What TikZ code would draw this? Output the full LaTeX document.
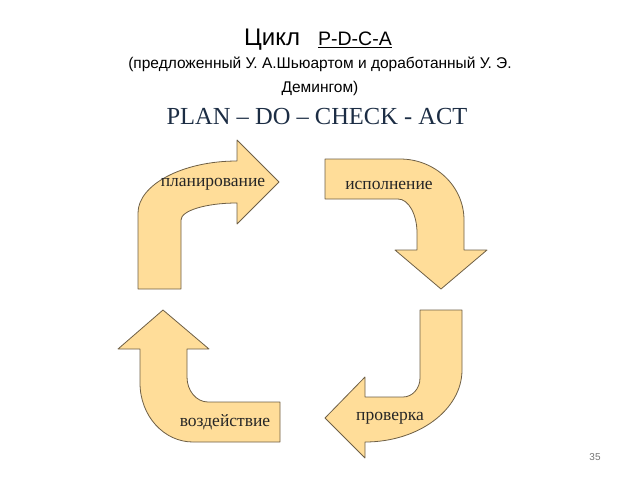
\documentclass[tikz,border=0pt]{standalone}
\usepackage{fontspec}
\setmainfont{Liberation Serif}
\setsansfont{Liberation Sans}
\usepackage{tikz}
\usetikzlibrary{positioning}

\definecolor{arrfill}{RGB}{255,221,153}
\definecolor{arrline}{RGB}{110,95,70}
\definecolor{pdcatext}{RGB}{28,45,68}

\begin{document}
\begin{tikzpicture}[x=1pt, y=-1pt,
  bentarr/.style={fill=arrfill, draw=arrline, line width=0.8pt, line join=round},
  lbl/.style={font=\fontsize{17.5}{20}\selectfont, text=black!85, inner sep=1pt},
  head/.style={font=\sffamily\fontsize{15.5}{24}\selectfont, align=center}
]
  \useasboundingbox (0,0) rectangle (640,480);

  \node[font=\sffamily\fontsize{24}{26}\selectfont] (title) at (318,40)
    {Цикл\hspace{18pt}\underline{\fontsize{19.5}{22}\selectfont P-D-C-A}};
  \node[head] (sub) at (320,76)
    {(предложенный У. А.Шьюартом и доработанный У. Э.\\Демингом)};
  \node[font=\fontsize{24.5}{28}\selectfont, text=pdcatext] (pdca) at (317,117)
    {PLAN -- DO -- CHECK - ACT};

  \draw[bentarr] (138,289) -- (181,289) -- (181,220)
    .. controls (181,210.6) and (206.1,203) .. (237,203)
    -- (237,224) -- (279,182) -- (237,140) -- (237,161)
    .. controls (182.4,161) and (138,184.8) .. (138,213) -- cycle;
  \draw[bentarr] (325,159) -- (400,159)
    .. controls (435.3,159) and (464,186.3) .. (464,220)
    -- (464,250) -- (487,250) -- (441,289) -- (395,250) -- (417,250) -- (417,233)
    .. controls (417,214.2) and (408.5,199) .. (398,199) -- (325,199) -- cycle;
  \draw[bentarr] (420,310) -- (462,310) -- (462,370)
    .. controls (462,409.7) and (418.5,442) .. (365,442)
    -- (365,458) -- (325,418) -- (365,377) -- (365,397) -- (403,397)
    .. controls (412.4,397) and (420,388.5) .. (420,378) -- cycle;
  \draw[bentarr] (163,310) -- (209,349) -- (187,349) -- (187,377)
    .. controls (187,390.8) and (196.4,402) .. (208,402)
    -- (280,402) -- (280,442) -- (193,442)
    .. controls (163.7,442) and (140,415.6) .. (140,383)
    -- (140,349) -- (118,349) -- cycle;

  \node[lbl] (plan) at (213,184) {планирование};
  \node[lbl] (do) at (389,185) {исполнение};
  \node[lbl] (check) at (390,418) {проверка};
  \node[lbl] (act) at (225,422) {воздействие};

  \node[font=\sffamily\fontsize{10}{12}\selectfont, text=black!55] (page) at (595,457) {35};
\end{tikzpicture}
\end{document}
